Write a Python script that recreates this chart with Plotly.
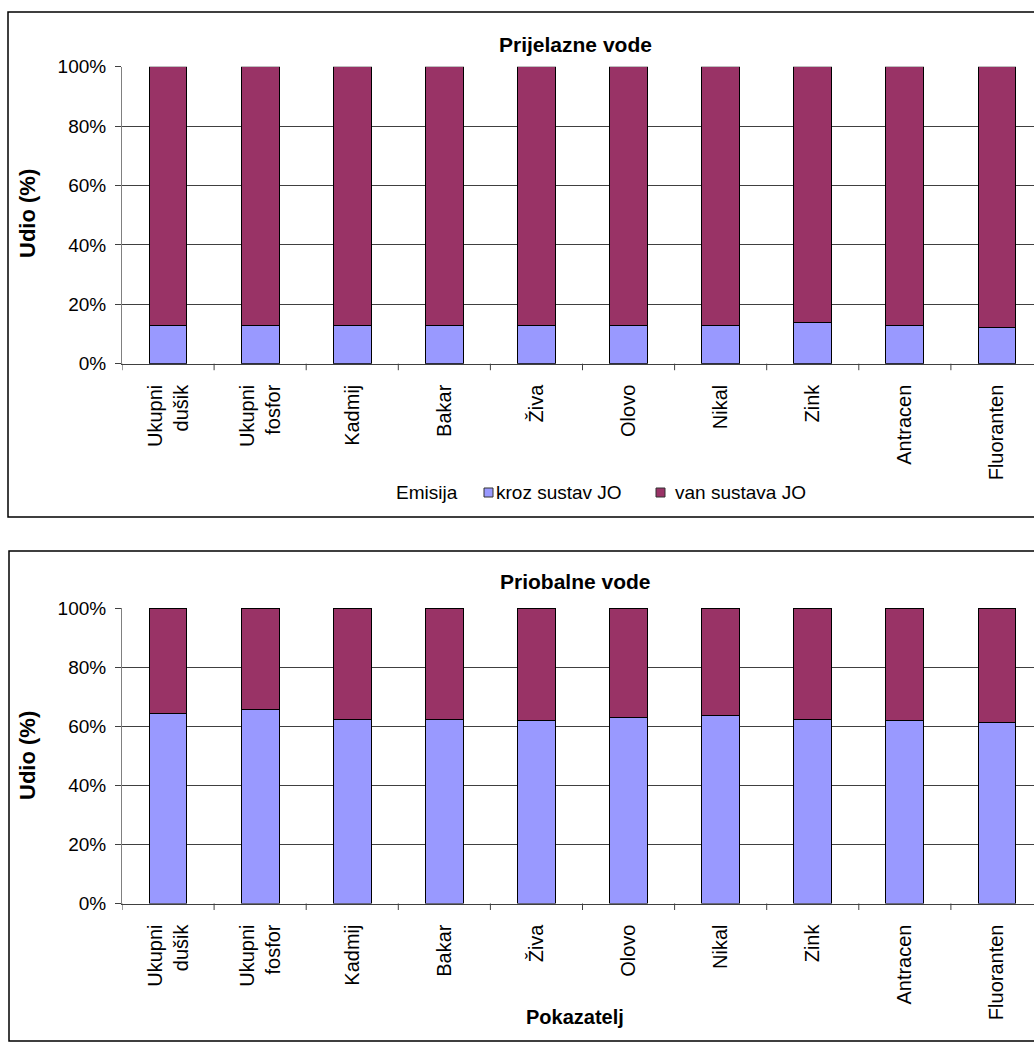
import plotly.graph_objects as go

# Indicator categories (tick labels) shared by both panels
categories = ["Ukupni<br>dušik", "Ukupni<br>fosfor", "Kadmij", "Bakar", "Živa",
              "Olovo", "Nikal", "Zink", "Antracen", "Fluoranten"]

# Transitional waters: share of emission (%)
prijelazne_kroz = [12.7, 12.7, 12.7, 12.7, 12.7, 12.7, 12.7, 13.9, 12.7, 12.3]
prijelazne_van = [87.3, 87.3, 87.3, 87.3, 87.3, 87.3, 87.3, 86.1, 87.3, 87.7]

# Coastal waters: share of emission (%)
priobalne_kroz = [64.2, 65.5, 62.4, 62.4, 61.9, 62.8, 63.7, 62.1, 61.9, 61.1]
priobalne_van = [35.8, 34.5, 37.6, 37.6, 38.1, 37.2, 36.3, 37.9, 38.1, 38.9]

series_names = ["kroz sustav JO", "van sustava JO"]
colors = ["#9999FF", "#993366"]
y_ticks = [0, 20, 40, 60, 80, 100]
y_tick_text = ["0%", "20%", "40%", "60%", "80%", "100%"]

W, H = 1034, 1052
FONT = "Liberation Sans, Arial, sans-serif"
x_idx = list(range(len(categories)))


def py(px):
    """Convert a pixel row (from top) to paper y."""
    return (H - px) / H


def px_x(px):
    return px / W


fig = go.Figure()

panels = [
    ("x", "y", prijelazne_kroz, prijelazne_van),
    ("x2", "y2", priobalne_kroz, priobalne_van),
]
for xa, ya, kroz, van in panels:
    for name, vals, col in zip(series_names, [kroz, van], colors):
        fig.add_trace(go.Bar(
            x=x_idx, y=vals, name=name, xaxis=xa, yaxis=ya,
            marker=dict(color=col, line=dict(color="#000000", width=1)),
            width=0.41, showlegend=False, hoverinfo="y+name",
        ))

x_dom = [px_x(122), 1.0]
x_range = [-0.5, -0.5 + (W - 122) / 92.1]

axis_x_common = dict(
    type="linear", range=x_range, domain=x_dom, automargin=False,
    tickmode="array", tickvals=x_idx, ticktext=categories,
    tickangle=-90, ticks="", showgrid=False, zeroline=False,
    showline=True, linecolor="#404040", linewidth=1,
    ticklabelstandoff=12,
    tickfont=dict(family=FONT, size=20, color="#000000"),
    fixedrange=True,
)
axis_y_common = dict(
    range=[0, 100], tickmode="array", tickvals=y_ticks, ticktext=y_tick_text,
    ticks="outside", ticklen=6, tickcolor="#404040", automargin=False,
    showgrid=True, gridcolor="#404040", gridwidth=1,
    showline=True, linecolor="#808080", linewidth=1, zeroline=False,
    ticklabelstandoff=5,
    tickfont=dict(family=FONT, size=19, color="#000000"),
    fixedrange=True,
)

fig.update_layout(
    width=W, height=H,
    margin=dict(l=0, r=0, t=0, b=0, autoexpand=False),
    paper_bgcolor="white", plot_bgcolor="white",
    barmode="stack", showlegend=False,
    font=dict(family=FONT, color="#000000"),
    xaxis=dict(axis_x_common, anchor="y"),
    yaxis=dict(axis_y_common, domain=[py(363.7), py(66.7)], anchor="x"),
    xaxis2=dict(axis_x_common, anchor="y2"),
    yaxis2=dict(axis_y_common, domain=[py(903.5), py(608)], anchor="x2"),
)

# Ticks placed between categories
for xa, ya in [("x", "y"), ("x2", "y2")]:
    for b in range(len(categories) + 1):
        fig.add_shape(type="line", xref=xa, yref=f"{ya} domain",
                      x0=b - 0.5, x1=b - 0.5, y0=0, y1=-0.022,
                      line=dict(color="#404040", width=1))

# Chart frames
fig.add_shape(type="rect", xref="paper", yref="paper",
              x0=px_x(8), x1=px_x(1200), y0=py(517), y1=py(12),
              line=dict(color="#000000", width=1.5))
fig.add_shape(type="rect", xref="paper", yref="paper",
              x0=px_x(9), x1=px_x(1200), y0=py(1041), y1=py(551),
              line=dict(color="#000000", width=1.5))

# Legend of the upper panel: heading, colour keys and series names
leg_font = dict(family=FONT, size=19, color="#000000")
leg_y = py(492)
fig.add_annotation(xref="paper", yref="paper", x=px_x(460), y=leg_y,
                   xanchor="right", yanchor="middle", showarrow=False,
                   text="Emisija", font=leg_font)
for name, col, sq_x, txt_x in zip(series_names, colors, [484, 656], [494, 673]):
    fig.add_shape(type="rect", xref="paper", yref="paper",
                  x0=px_x(sq_x), x1=px_x(sq_x + 9), y0=py(497), y1=py(488),
                  fillcolor=col, line=dict(color="#333333", width=1))
    fig.add_annotation(xref="paper", yref="paper", x=px_x(txt_x), y=leg_y,
                       xanchor="left", yanchor="middle", showarrow=False,
                       text=name, font=leg_font)

# Titles
ann = dict(xref="paper", yref="paper", showarrow=False,
           xanchor="center", yanchor="middle",
           font=dict(family=FONT, size=21, color="#000000"))
fig.add_annotation(ann, x=px_x(575), y=py(45), text="<b>Prijelazne vode</b>")
fig.add_annotation(ann, x=px_x(575), y=py(581), text="<b>Priobalne vode</b>")
fig.add_annotation(ann, x=px_x(575), y=py(1017), text="<b>Pokazatelj</b>",
                   font=dict(family=FONT, size=20, color="#000000"))
for yc in [214, 756]:
    fig.add_annotation(ann, x=px_x(27), y=py(yc), text="<b>Udio (%)</b>",
                       textangle=-90,
                       font=dict(family=FONT, size=22, color="#000000"))

fig.write_html("out.html", config={"displayModeBar": False})
